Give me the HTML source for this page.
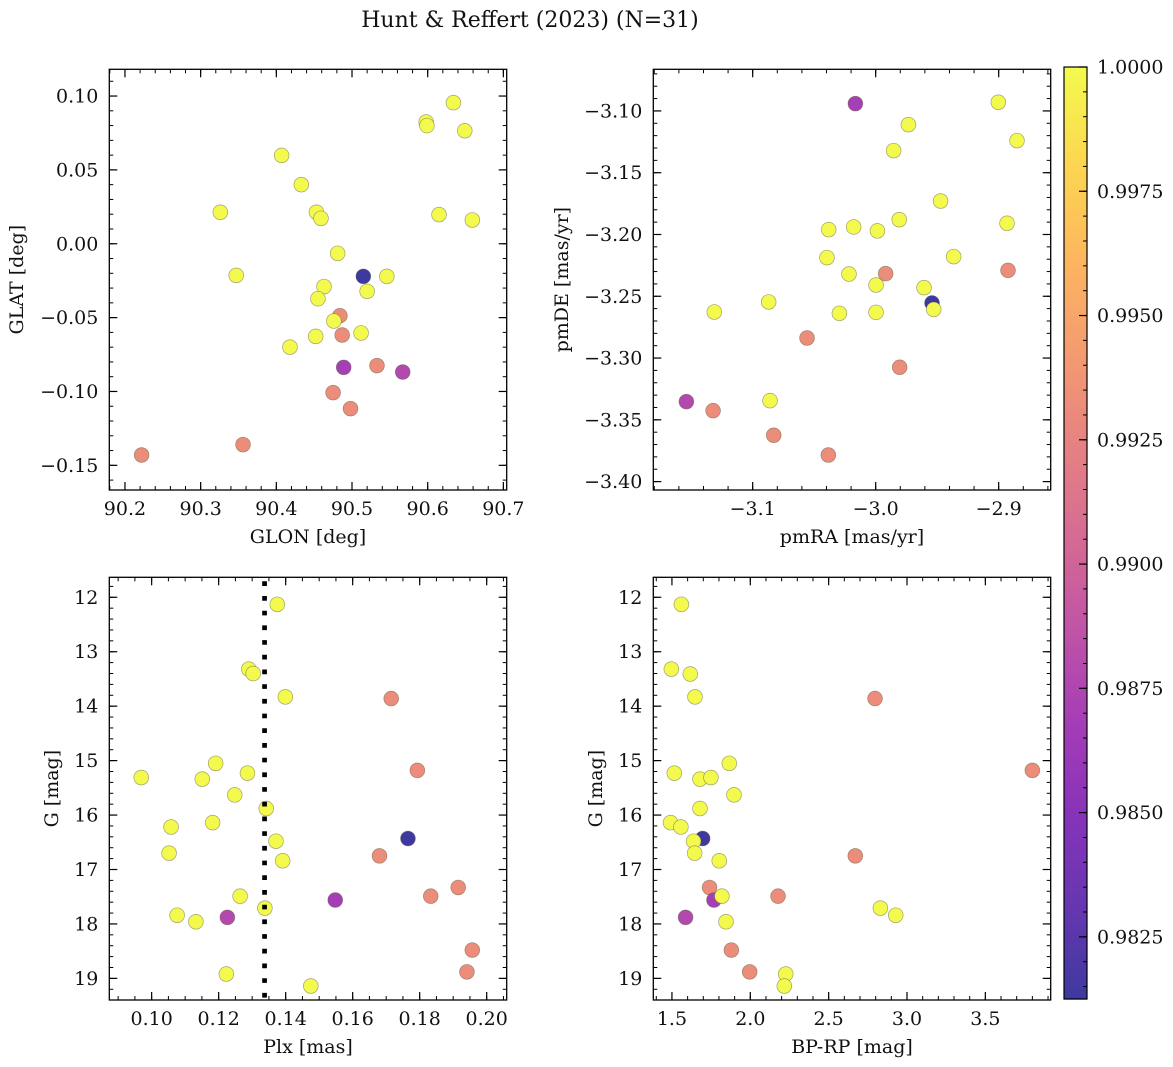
<!DOCTYPE html>
<html><head><meta charset="utf-8"><style>
html,body{margin:0;padding:0;background:#fff;}
svg{display:block;font-family:"DejaVu Serif","Liberation Serif",serif;}
</style></head><body>
<svg id="fig" width="1173" height="1067" viewBox="0 0 1173 1067" xmlns="http://www.w3.org/2000/svg">
<text x="530" y="27" text-anchor="middle" font-size="22" fill="#111">Hunt &amp; Reffert (2023) (N=31)</text>
</svg>
<script>
// ---- data (probability-coded stars, per panel) ----
const glon = [90.634,90.598,90.599,90.649,90.407,90.433,90.326,90.453,90.459,90.615,90.659,90.481,90.347,90.515,90.546,90.463,90.520,90.455,90.484,90.476,90.452,90.487,90.512,90.418,90.489,90.533,90.567,90.475,90.498,90.356,90.222];
const glat = [0.0955,0.0824,0.080,0.0765,0.0598,0.040,0.0213,0.0213,0.0172,0.0197,0.0161,-0.0065,-0.0214,-0.0221,-0.0221,-0.029,-0.0322,-0.0372,-0.0487,-0.0523,-0.0627,-0.0618,-0.0604,-0.070,-0.0837,-0.0825,-0.0868,-0.1008,-0.1116,-0.136,-0.143];
const prob1 = [1,1,1,1,1,1,1,1,1,1,1,1,1,0.98125,1,1,1,1,0.9932,1,1,0.9932,1,1,0.9869,0.9932,0.9878,0.9932,0.9932,0.9932,0.9932];

const pmra = [-3.0165,-2.9003,-2.9734,-2.8851,-2.9854,-2.9472,-2.9808,-2.8932,-3.0382,-3.0179,-2.9986,-3.0396,-2.9366,-2.8924,-3.0217,-2.9919,-2.9997,-2.9607,-2.9542,-2.9528,-3.0870,-3.1312,-3.0295,-2.9997,-3.0558,-2.9805,-3.1539,-3.0859,-3.1322,-3.0829,-3.0385];
const pmde = [-3.0941,-3.0930,-3.1111,-3.1240,-3.1321,-3.1729,-3.1880,-3.1909,-3.1961,-3.1939,-3.1971,-3.2187,-3.2179,-3.2290,-3.2320,-3.2317,-3.2409,-3.2430,-3.2554,-3.2606,-3.2546,-3.2627,-3.2638,-3.2630,-3.2838,-3.3075,-3.3353,-3.3345,-3.3426,-3.3625,-3.3785];
const prob2 = [0.9869,1,1,1,1,1,1,1,1,1,1,1,1,0.9932,1,0.9932,1,1,0.98125,1,1,1,1,1,0.9932,0.9932,0.9878,1,0.9932,0.9932,0.9932];

const plx = [0.1375,0.1290,0.1303,0.1399,0.1715,0.0969,0.1191,0.1151,0.1286,0.1793,0.1248,0.1342,0.1058,0.1182,0.1371,0.1765,0.1052,0.1391,0.1680,0.1915,0.1264,0.1833,0.1548,0.1338,0.1076,0.1132,0.1226,0.1957,0.1941,0.1223,0.1475];
const gmag3 = [12.13,13.32,13.40,13.83,13.86,15.31,15.05,15.34,15.23,15.18,15.63,15.88,16.22,16.14,16.48,16.43,16.70,16.84,16.75,17.33,17.49,17.49,17.56,17.71,17.84,17.96,17.88,18.48,18.88,18.92,19.14];
const prob3 = [1,1,1,1,0.9932,1,1,1,1,0.9932,1,1,1,1,1,0.98125,1,1,0.9932,0.9932,1,0.9932,0.9869,1,1,1,0.9878,0.9932,0.9932,1,1];
const plxLine = [0.1337];

const bprp = [1.560,1.496,1.617,1.647,2.796,1.866,1.515,1.679,1.749,3.800,1.896,1.679,1.491,1.557,1.696,1.638,1.645,1.802,2.670,1.740,1.768,1.819,2.177,2.830,2.928,1.587,1.845,1.879,1.996,2.226,2.217];
const gmag4 = [12.13,13.32,13.41,13.83,13.86,15.05,15.23,15.34,15.31,15.18,15.63,15.88,16.14,16.22,16.43,16.48,16.70,16.84,16.75,17.33,17.56,17.49,17.49,17.71,17.84,17.88,17.96,18.48,18.88,18.92,19.14];
const prob4 = [1,1,1,1,0.9932,1,1,1,1,0.9932,1,1,1,1,0.98125,1,1,1,0.9932,0.9932,0.9869,1,0.9932,1,1,0.9878,1,0.9932,0.9932,1,1];

const xt1 = ["90.2","90.3","90.4","90.5","90.6","90.7"];
const yt1 = ["0.10","0.05","0.00","−0.05","−0.10","−0.15"];
const xt2 = ["−3.1","−3.0","−2.9"];
const yt2 = ["−3.10","−3.15","−3.20","−3.25","−3.30","−3.35","−3.40"];
const xt3 = ["0.10","0.12","0.14","0.16","0.18","0.20"];
const ytG = ["12","13","14","15","16","17","18","19"];
const xt4 = ["1.5","2.0","2.5","3.0","3.5"];
const cbt = ["0.9825","0.9850","0.9875","0.9900","0.9925","0.9950","0.9975","1.0000"];
const vmin = 0.98125, vmax = 1.0;

// ---- rendering ----
const FS = 19;
const NS = "http://www.w3.org/2000/svg";
const fig = document.getElementById('fig');
function mk(tag, attrs, parent){ const e=document.createElementNS(NS,tag); for(const k in attrs) e.setAttribute(k,attrs[k]); (parent||fig).appendChild(e); return e; }
const stops = ["#0d0887","#41049d","#6a00a8","#8f0da4","#b12a90","#cc4778","#e16462","#f2844b","#fca636","#fcce25","#f0f921"];
function hex(h){return [parseInt(h.substr(1,2),16),parseInt(h.substr(3,2),16),parseInt(h.substr(5,2),16)];}
function plasma(t){ t=Math.max(0,Math.min(1,t)); const s=t*10; const i=Math.min(9,Math.floor(s)); const f=s-i; const a=hex(stops[i]), b=hex(stops[i+1]);
  const c=a.map((v,k)=>v+(b[k]-v)*f).map(v=>Math.round(v*0.8+255*0.2)); return `rgb(${c[0]},${c[1]},${c[2]})`; }
function col(p){ return plasma((p-vmin)/(vmax-vmin)); }

function panel(cfg){
  const {L,T,R,B,xmin,xmax,ymin,ymax,inv,name} = cfg;
  const sx = v => L + (v-xmin)/(xmax-xmin)*(R-L);
  const sy = v => inv ? T + (v-ymin)/(ymax-ymin)*(B-T) : B - (v-ymin)/(ymax-ymin)*(B-T);
  const g = mk('g',{});
  
  
  for(let i=0;i<cfg.xs.length;i++){
    const c = mk('circle',{cx:sx(cfg.xs[i]),cy:sy(cfg.ys[i]),r:7.4,fill:col(cfg.ps[i]),stroke:'rgba(90,90,60,0.55)','stroke-width':0.7},g);
    
    
  }
  if(cfg.vline){ for(const v of cfg.vline){ const l=mk('line',{x1:sx(v),x2:sx(v),y1:T+1,y2:B,stroke:'#000','stroke-width':4.7,'stroke-dasharray':'4.7 10','stroke-dashoffset':-3},g);
    
     } }
  const eps=1e-9;
  for(let v=Math.ceil(xmin/cfg.xminor-eps)*cfg.xminor; v<=xmax+eps; v+=cfg.xminor){ const x=sx(v);
    mk('line',{x1:x,x2:x,y1:B,y2:B-4,stroke:'#000','stroke-width':1},g); mk('line',{x1:x,x2:x,y1:T,y2:T+4,stroke:'#000','stroke-width':1},g);}
  const ylo=Math.min(ymin,ymax), yhi=Math.max(ymin,ymax);
  for(let v=Math.ceil(ylo/cfg.yminor-eps)*cfg.yminor; v<=yhi+eps; v+=cfg.yminor){ const y=sy(v);
    mk('line',{x1:L,x2:L+4,y1:y,y2:y,stroke:'#000','stroke-width':1},g); mk('line',{x1:R,x2:R-4,y1:y,y2:y,stroke:'#000','stroke-width':1},g);}
  cfg.xt.forEach(s=>{ const v=parseFloat(s.replace('−','-')); const x=sx(v);
    mk('line',{x1:x,x2:x,y1:B,y2:B-8,stroke:'#000','stroke-width':1.2},g); mk('line',{x1:x,x2:x,y1:T,y2:T+8,stroke:'#000','stroke-width':1.2},g);
    const t=mk('text',{x:x,y:B+25,'text-anchor':'middle','font-size':FS,fill:'#111'},g); t.textContent=s;
    
     });
  cfg.yt.forEach(s=>{ const v=parseFloat(s.replace('−','-')); const y=sy(v);
    mk('line',{x1:L,x2:L+8,y1:y,y2:y,stroke:'#000','stroke-width':1.2},g); mk('line',{x1:R,x2:R-8,y1:y,y2:y,stroke:'#000','stroke-width':1.2},g);
    const t=mk('text',{x:L-11,y:y+6.5,'text-anchor':'end','font-size':FS,fill:'#111'},g); t.textContent=s;
    
     });
  const f=mk('rect',{x:L,y:T,width:R-L,height:B-T,fill:'none',stroke:'#000','stroke-width':1.3},g);
  
  
  const xl=mk('text',{x:(L+R)/2,y:B+53,'text-anchor':'middle','font-size':FS,fill:'#111'},g); xl.textContent=cfg.xlabel;
  
  
  const cy=(T+B)/2;
  const yl=mk('text',{x:cfg.ylx,y:cy,'text-anchor':'middle','font-size':FS,fill:'#111',transform:`rotate(-90 ${cfg.ylx} ${cy})`},g); yl.textContent=cfg.ylabel;
  
  
}

panel({name:'glon-glat',L:109.3,T:69.3,R:506.7,B:490,xmin:90.1793,xmax:90.7044,ymin:-0.1667,ymax:0.1181,inv:false,
  xs:glon,ys:glat,ps:prob1,xt:xt1,yt:yt1,xminor:0.02,yminor:0.01,xlabel:'GLON [deg]',ylabel:'GLAT [deg]',ylx:23});
panel({name:'pm',L:653.3,T:69.3,R:1050.7,B:490,xmin:-3.1808,xmax:-2.8577,ymin:-3.4068,ymax:-3.0663,inv:false,
  xs:pmra,ys:pmde,ps:prob2,xt:xt2,yt:yt2,xminor:0.02,yminor:0.01,xlabel:'pmRA [mas/yr]',ylabel:'pmDE [mas/yr]',ylx:568});
panel({name:'plx-g',L:109.3,T:577.3,R:506.7,B:1000,xmin:0.08736,xmax:0.20597,ymin:11.633,ymax:19.397,inv:true,
  xs:plx,ys:gmag3,ps:prob3,xt:xt3,yt:ytG,xminor:0.005,yminor:0.2,xlabel:'Plx [mas]',ylabel:'G [mag]',ylx:58,vline:plxLine});
panel({name:'cmd',L:653.3,T:577.3,R:1050.7,B:1000,xmin:1.381,xmax:3.917,ymin:11.633,ymax:19.397,inv:true,
  xs:bprp,ys:gmag4,ps:prob4,xt:xt4,yt:ytG,xminor:0.1,yminor:0.2,xlabel:'BP-RP [mag]',ylabel:'G [mag]',ylx:602});

(function(){
  const L=1064,R=1087,T=67,B=999;
  const g=mk('g',{});
  
  
  const n=200;
  for(let i=0;i<n;i++){ const t0=i/n; mk('rect',{x:L,y:B-(i+1)*(B-T)/n,width:R-L,height:(B-T)/n+0.6,fill:plasma(t0+0.5/n)},g); }
  const sy=v=>B-(v-vmin)/(vmax-vmin)*(B-T);
  for(let v=0.9815; v<=1.00001; v+=0.0005){ const y=sy(v); if(y<T||y>B) continue; mk('line',{x1:R,x2:R-4,y1:y,y2:y,stroke:'#000','stroke-width':1},g);}
  cbt.forEach(s=>{ const y=sy(parseFloat(s)); mk('line',{x1:R,x2:R-8,y1:y,y2:y,stroke:'#000','stroke-width':1.2},g);
    const t=mk('text',{x:R+10,y:y+6.5,'font-size':FS,fill:'#111'},g); t.textContent=s;
    
     });
  mk('rect',{x:L,y:T,width:R-L,height:B-T,fill:'none',stroke:'#000','stroke-width':1.2},g);
})();
</script>
</body></html>
